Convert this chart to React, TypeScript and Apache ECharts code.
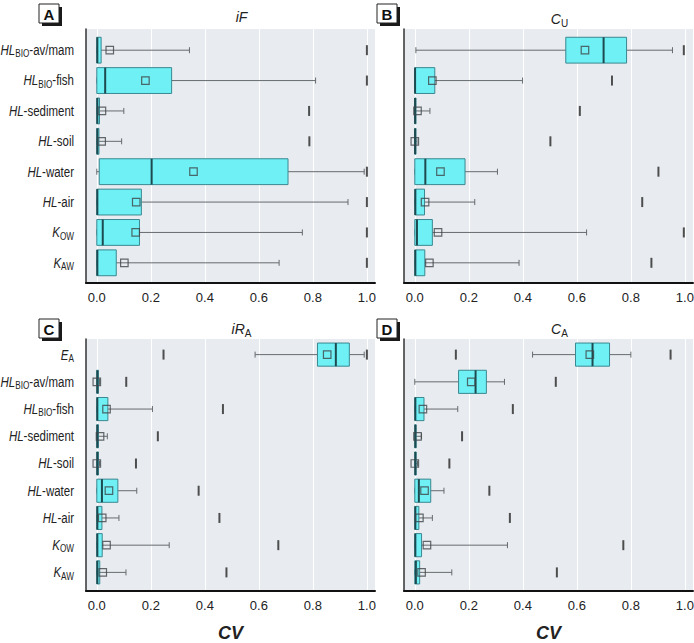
import React, { useEffect, useRef } from 'react';
import * as echarts from 'echarts';

// ---------- data ----------
const catsAB = ['HL_BIO-av/mam', 'HL_BIO-fish', 'HL-sediment', 'HL-soil', 'HL-water', 'HL-air', 'K_OW', 'K_AW'];
const catsCD = ['E_A', 'HL_BIO-av/mam', 'HL_BIO-fish', 'HL-sediment', 'HL-soil', 'HL-water', 'HL-air', 'K_OW', 'K_AW'];
const xTicks = [0, 0.2, 0.4, 0.6, 0.8, 1.0];

// Panel A: iF
const aMin = [0, 0, 0, 0, 0, 0, 0, 0];
const aQ1 = [0, 0, 0, 0, 0.009, 0, 0, 0];
const aMed = [0.002, 0.031, 0.002, 0.002, 0.203, 0.002, 0.022, 0.002];
const aQ3 = [0.016, 0.277, 0.01, 0.008, 0.708, 0.165, 0.158, 0.072];
const aMax = [0.343, 0.81, 0.1, 0.092, 0.99, 0.93, 0.761, 0.675];
const aMean = [0.048, 0.18, 0.019, 0.018, 0.358, 0.146, 0.144, 0.102];
const aMark = [1.0, 1.0, 0.786, 0.787, 1.0, 1.0, 1.0, 1.0];

// Panel B: C_U
const bMin = [0.004, 0, 0, 0, 0, 0, 0, 0];
const bQ1 = [0.559, 0, 0, 0, 0, 0, 0, 0];
const bMed = [0.699, 0.001, 0.001, 0.001, 0.039, 0.002, 0.008, 0.002];
const bQ3 = [0.784, 0.074, 0.003, 0.003, 0.186, 0.036, 0.065, 0.037];
const bMax = [0.954, 0.399, 0.056, 0.008, 0.306, 0.222, 0.636, 0.386];
const bMean = [0.63, 0.065, 0.01, 0.0, 0.095, 0.038, 0.086, 0.054];
const bMark = [0.996, 0.73, 0.611, 0.502, 0.902, 0.842, 0.996, 0.876];

// Panel C: iR_A
const cMin = [0.586, 0, 0, 0, 0, 0, 0, 0, 0];
const cQ1 = [0.817, 0, 0, 0, 0, 0, 0, 0, 0];
const cMed = [0.885, 0.002, 0.002, 0.002, 0.002, 0.019, 0.002, 0.002, 0.002];
const cQ3 = [0.935, 0.006, 0.041, 0.006, 0.006, 0.078, 0.019, 0.02, 0.011];
const cMax = [0.99, 0.01, 0.206, 0.039, 0.01, 0.148, 0.082, 0.268, 0.108];
const cMean = [0.853, 0.0, 0.036, 0.012, 0.0, 0.045, 0.02, 0.036, 0.022];
const cMark = [0.247, 0.109, 0.467, 0.226, 0.145, 0.377, 0.454, 0.672, 0.48];
const cMarkEA = [1.0];

// Panel D: C_A
const dMin = [0.436, 0.0, 0, 0, 0, 0, 0, 0, 0];
const dQ1 = [0.595, 0.162, 0, 0, 0, 0, 0, 0, 0];
const dMed = [0.658, 0.225, 0.002, 0.002, 0.002, 0.015, 0.002, 0.002, 0.004];
const dQ3 = [0.721, 0.265, 0.034, 0.005, 0.005, 0.059, 0.015, 0.025, 0.018];
const dMax = [0.8, 0.332, 0.159, 0.025, 0.01, 0.108, 0.065, 0.343, 0.137];
const dMean = [0.648, 0.209, 0.03, 0.01, 0.0, 0.036, 0.017, 0.045, 0.025];
const dMark = [0.947, 0.522, 0.363, 0.175, 0.128, 0.276, 0.352, 0.772, 0.526];
const dMarkEA = [0.152];

const titles = ['iF', 'C_U', 'iR_A', 'C_A'];
const panelLetters = ['A', 'B', 'C', 'D'];

// ---------- style ----------
const FONT = "'Liberation Sans', Arial, sans-serif";
const NARROW = 0.82; // horizontal compression to mimic a condensed face
const BG = '#e8ecf0';
const BOX_FILL = '#6ef0f4';
const BOX_STROKE = '#3a8891';
const MED = '#1d4a50';
const WHISK = '#666b6e';

const rich = {
  i: { fontStyle: 'italic', fontWeight: 'normal', fontSize: 14, fill: '#222', color: '#222', fontFamily: FONT },
  n: { fontSize: 14, fontWeight: 'normal', fill: '#222', color: '#222', fontFamily: FONT },
  s: { fontSize: 10, fontWeight: 'normal', fill: '#222', color: '#222', fontFamily: FONT, padding: [8, 0, 0, 0] },
};

function toRich(name: string, italicAll = false) {
  const m = name.match(/^([^_-]+)(?:_([^-]+))?(.*)$/);
  if (!m) return name;
  let out = `{i|${m[1]}}`;
  if (m[2]) out += `{s|${m[2]}}`;
  if (m[3]) out += italicAll ? `{i|${m[3]}}` : `{n|${m[3]}}`;
  return out;
}

type Panel = {
  cats: string[];
  min: number[]; q1: number[]; med: number[]; q3: number[]; max: number[];
  mean: number[]; mark: number[]; extra: number[];
  left: number; bgTop: number; bgH: number; dTop: number; dH: number;
  labels: boolean; cv: boolean;
};

const panels: Panel[] = [
  { cats: catsAB, min: aMin, q1: aQ1, med: aMed, q3: aQ3, max: aMax, mean: aMean, mark: aMark, extra: [],
    left: 86, bgTop: 29, bgH: 254, dTop: 35, dH: 243, labels: true, cv: false },
  { cats: catsAB, min: bMin, q1: bQ1, med: bMed, q3: bQ3, max: bMax, mean: bMean, mark: bMark, extra: [],
    left: 404, bgTop: 29, bgH: 254, dTop: 35, dH: 243, labels: false, cv: false },
  { cats: catsCD, min: cMin, q1: cQ1, med: cMed, q3: cQ3, max: cMax, mean: cMean, mark: cMark, extra: cMarkEA,
    left: 86, bgTop: 339, bgH: 252, dTop: 341, dH: 245, labels: true, cv: true },
  { cats: catsCD, min: dMin, q1: dQ1, med: dMed, q3: dQ3, max: dMax, mean: dMean, mark: dMark, extra: dMarkEA,
    left: 404, bgTop: 339, bgH: 252, dTop: 341, dH: 245, labels: false, cv: true },
];

const W = 289;
const XMIN = -0.04;
const XMAX = 1.03;
const LABEL_MARGIN = 12;

function letterGraphics() {
  return panels.map((p, k) => {
    const lx = k % 2 === 0 ? 39 : 377;
    const ly = k < 2 ? 4 : 319;
    return {
      id: 'letter' + k,
      type: 'group', x: lx, y: ly,
      children: [
        { type: 'rect', shape: { x: 3, y: 3, width: 20, height: 19 }, style: { fill: '#1a1a1a' } },
        { type: 'rect', shape: { x: 0, y: 0, width: 20, height: 19 }, style: { fill: '#fff', stroke: '#222', lineWidth: 1 } },
        {
          type: 'text', x: 10, y: 10,
          style: { text: panelLetters[k], fontSize: 15, fontWeight: 'bold', fontFamily: FONT, fill: '#111', align: 'center', verticalAlign: 'middle' },
        },
      ],
    };
  });
}

function buildOption() {
  const grid: any[] = [];
  const xAxis: any[] = [];
  const yAxis: any[] = [];
  const series: any[] = [];
  const title: any[] = [];

  panels.forEach((p, k) => {
    grid.push({ left: p.left, top: p.bgTop, width: W, height: p.bgH, show: true, backgroundColor: BG, borderWidth: 0, containLabel: false, outerBoundsMode: 'none' });
    grid.push({ left: p.left, top: p.dTop, width: W, height: p.dH, show: false, containLabel: false, outerBoundsMode: 'none' });

    xAxis.push({
      type: 'value', gridIndex: 2 * k, min: XMIN, max: XMAX,
      axisLine: { show: true, onZero: false, lineStyle: { color: '#111', width: 2 } },
      axisTick: { show: false, customValues: xTicks },
      axisLabel: {
        customValues: xTicks, margin: 8, color: '#222', fontSize: 13, fontFamily: FONT,
        formatter: (v: number) => v.toFixed(1),
      },
      splitLine: { show: true, lineStyle: { color: '#ffffff', width: 1 } },
      name: p.cv ? 'CV' : '', nameLocation: 'middle', nameGap: 33,
      nameTextStyle: { fontSize: 18, fontWeight: 'bold', fontStyle: 'italic', color: '#222', fontFamily: FONT },
    });
    xAxis.push({ type: 'value', gridIndex: 2 * k + 1, min: XMIN, max: XMAX, show: false, splitLine: { show: false } });

    yAxis.push({
      type: 'value', gridIndex: 2 * k, min: 0, max: 1,
      axisLine: { show: true, onZero: false, lineStyle: { color: '#333', width: 1.5 } },
      axisTick: { show: false }, axisLabel: { show: false }, splitLine: { show: false },
    });
    yAxis.push({
      type: 'category', gridIndex: 2 * k + 1, data: p.cats, inverse: true,
      axisLine: { show: false }, axisTick: { show: false }, splitLine: { show: false },
      axisLabel: { show: false },
    });

    const ai = 2 * k + 1;
    series.push({
      type: 'custom', xAxisIndex: ai, yAxisIndex: ai, z: 2,
      data: p.cats.map((_, i) => [i, p.min[i], p.q1[i], p.med[i], p.q3[i], p.max[i]]),
      encode: { x: [1, 2, 3, 4, 5], y: 0 },
      renderItem: (params: any, api: any) => {
        const yi = api.value(0);
        const pMin = api.coord([api.value(1), yi]);
        const pQ1 = api.coord([api.value(2), yi]);
        const pMed = api.coord([api.value(3), yi]);
        const pQ3 = api.coord([api.value(4), yi]);
        const pMax = api.coord([api.value(5), yi]);
        const band = api.size([0, 1])[1];
        const bh = band * 0.85;
        const ch = 6;
        const y = pMin[1];
        const ls = { stroke: WHISK, lineWidth: 1 };
        return {
          type: 'group',
          children: [
            { type: 'line', shape: { x1: pMin[0], y1: y, x2: pMax[0], y2: y }, style: ls },
            { type: 'line', shape: { x1: pMin[0], y1: y - ch / 2, x2: pMin[0], y2: y + ch / 2 }, style: ls },
            { type: 'line', shape: { x1: pMax[0], y1: y - ch / 2, x2: pMax[0], y2: y + ch / 2 }, style: ls },
            {
              type: 'rect',
              shape: { x: pQ1[0], y: y - bh / 2, width: Math.max(pQ3[0] - pQ1[0], 1.2), height: bh },
              style: { fill: BOX_FILL, stroke: BOX_STROKE, lineWidth: 1 },
            },
            {
              type: 'line',
              shape: { x1: pMed[0], y1: y - bh / 2, x2: pMed[0], y2: y + bh / 2 },
              style: { stroke: MED, lineWidth: 2 },
            },
          ],
        };
      },
    });
    series.push({
      type: 'scatter', xAxisIndex: ai, yAxisIndex: ai, z: 3,
      symbol: 'rect', symbolSize: 7.5,
      itemStyle: { color: 'rgba(0,0,0,0)', borderColor: '#3f4548', borderWidth: 1.2 },
      data: p.cats.map((_, i) => [p.mean[i], i]),
    });
    series.push({
      type: 'scatter', xAxisIndex: ai, yAxisIndex: ai, z: 3,
      symbol: 'rect', symbolSize: [2, 10],
      itemStyle: { color: '#262626' },
      data: p.cats.map((_, i) => [p.mark[i], i]).concat(p.extra.map((v) => [v, 0])),
    });

    title.push({
      text: toRich(titles[k], true),
      left: p.left + W / 2 + 6, top: p.bgTop - 24, textAlign: 'center',
      textStyle: { rich, fontFamily: FONT, fontWeight: 'normal' },
    });
  });

  return { animation: false, backgroundColor: '#fff', grid, xAxis, yAxis, series, title, graphic: letterGraphics() };
}

export default function App() {
  const ref = useRef<HTMLDivElement>(null);
  useEffect(() => {
    if (!ref.current) return;
    const chart = echarts.init(ref.current, undefined, { renderer: 'svg' });
    chart.setOption(buildOption() as any);
    // category labels, placed through the chart's own category scale, drawn condensed
    const labels: any[] = [];
    panels.forEach((p, k) => {
      if (!p.labels) return;
      const gi = 2 * k + 1;
      p.cats.forEach((c, i) => {
        const pt = chart.convertToPixel({ gridIndex: gi }, [XMIN, i]) as number[];
        labels.push({
          id: `lab${k}_${i}`,
          type: 'text', x: pt[0] - LABEL_MARGIN, y: pt[1], scaleX: NARROW,
          style: { text: toRich(c), rich, fontFamily: FONT, fontSize: 14, fill: '#222', align: 'right', verticalAlign: 'middle' },
        });
      });
    });
    chart.setOption({ graphic: [...letterGraphics(), ...labels] } as any);
    return () => chart.dispose();
  }, []);
  return <div ref={ref} style={{ position: 'absolute', left: 0, top: 0, width: 694, height: 643 }} />;
}
